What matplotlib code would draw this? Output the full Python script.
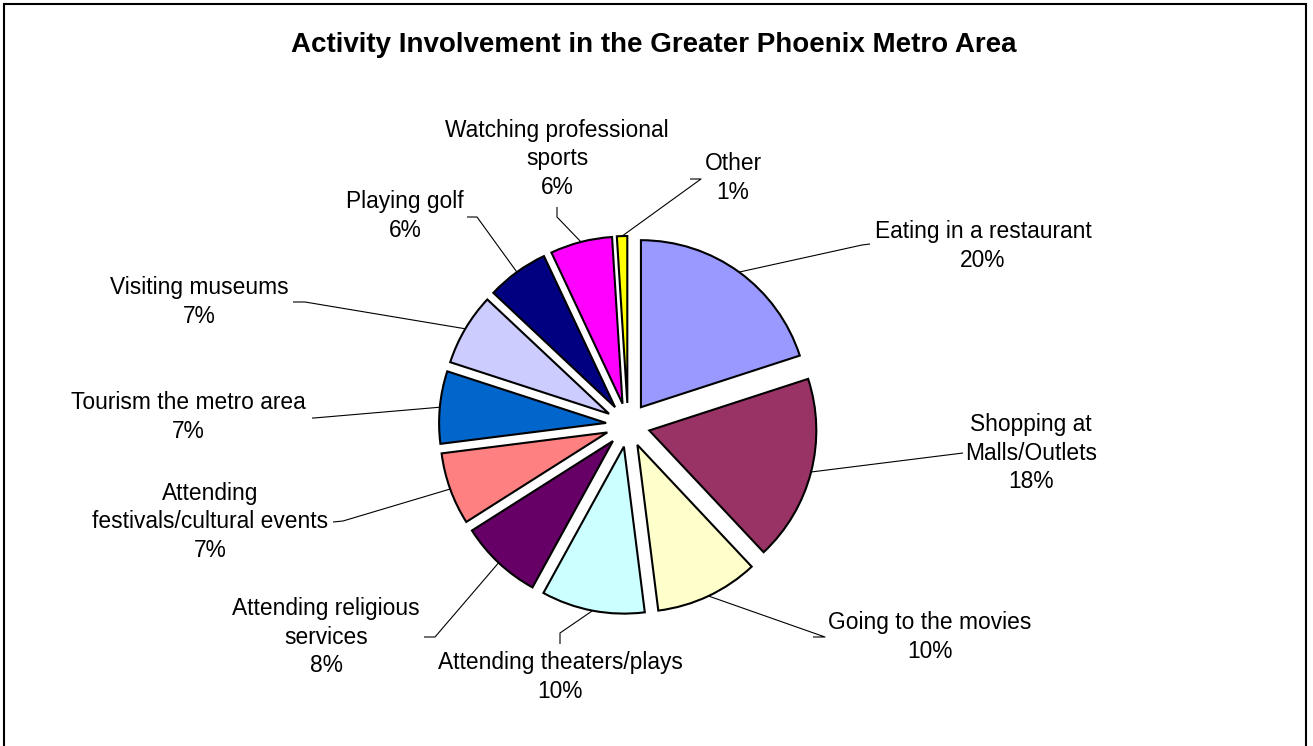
import numpy as np
import matplotlib
matplotlib.use("Agg")
import matplotlib.pyplot as plt
from matplotlib.patches import Rectangle

W, H = 1313, 746

# slice data, clockwise from 12 o'clock
names = ["Eating in a restaurant", "Shopping at\nMalls/Outlets", "Going to the movies",
         "Attending theaters/plays", "Attending religious\nservices",
         "Attending\nfestivals/cultural events", "Tourism the metro area",
         "Visiting museums", "Playing golf", "Watching professional\nsports", "Other"]
shares = [20, 18, 10, 10, 8, 7, 7, 7, 6, 6, 1]
colors = ["#9999FF", "#993366", "#FFFFCC", "#CCFFFF", "#660066", "#FF8080",
          "#0066CC", "#CCCCFF", "#000080", "#FF00FF", "#FFFF00"]

# label layout in pixels (x, y from top): text centre, elbow point, line end at text
label_pos = [(983, 246), (1031, 453), (930, 637), (560, 677), (326, 637), (210, 522),
             (188, 417), (199, 302), (405, 216), (557, 159), (733, 178)]
elbows = [(862, 245), (955, 454), (825, 637), (560, 633), (435, 637), (343, 521),
          (314, 418), (305, 302), (477, 217), (557, 217), (701, 179)]
line_ends = [(870, 244), (963, 453), (813, 637), (560, 644), (424, 637), (333, 522),
             (312, 418), (293, 302), (467, 217), (557, 207), (690, 179)]

plt.rcParams['font.family'] = ['Liberation Sans', 'DejaVu Sans']

fig = plt.figure(figsize=(W / 100, H / 100), dpi=100)
ax = fig.add_axes([0, 0, 1, 1])

cx, cy, r = 628, H - 425, 167
# pie explode is in data units here (pixels)
wedges, _ = ax.pie(shares, colors=colors, explode=[22] * len(shares), startangle=90,
                   counterclock=False, radius=r, center=(cx, cy),
                   wedgeprops=dict(edgecolor="black", linewidth=1.5))

for w, name, v, tp, el, le in zip(wedges, names, shares, label_pos, elbows, line_ends):
    mid = np.deg2rad((w.theta1 + w.theta2) / 2)
    ox, oy = w.center
    ax_pt = (ox + w.r * np.cos(mid), oy + w.r * np.sin(mid))
    xs = [ax_pt[0], el[0], le[0]]
    ys = [ax_pt[1], H - el[1], H - le[1]]
    ax.plot(xs, ys, color="black", lw=0.8, solid_capstyle="butt")
    ax.text(tp[0], H - tp[1], f"{name}\n{v}%", ha="center", va="center",
            multialignment="center", fontsize=16.4, linespacing=1.29)

ax.text(654, H - 45, "Activity Involvement in the Greater Phoenix Metro Area",
        ha="center", va="center", fontsize=20, fontweight="bold")

ax.set_xlim(0, W)
ax.set_ylim(0, H)
ax.set_aspect("auto")
ax.axis("off")

# chart-area frame
fig.patches.append(Rectangle((4 / W, -0.01), 1302 / W, (H - 4) / H + 0.01,
                             transform=fig.transFigure, fill=False,
                             edgecolor="black", linewidth=1.5))

fig.savefig("out.png", dpi=100, facecolor="white")
